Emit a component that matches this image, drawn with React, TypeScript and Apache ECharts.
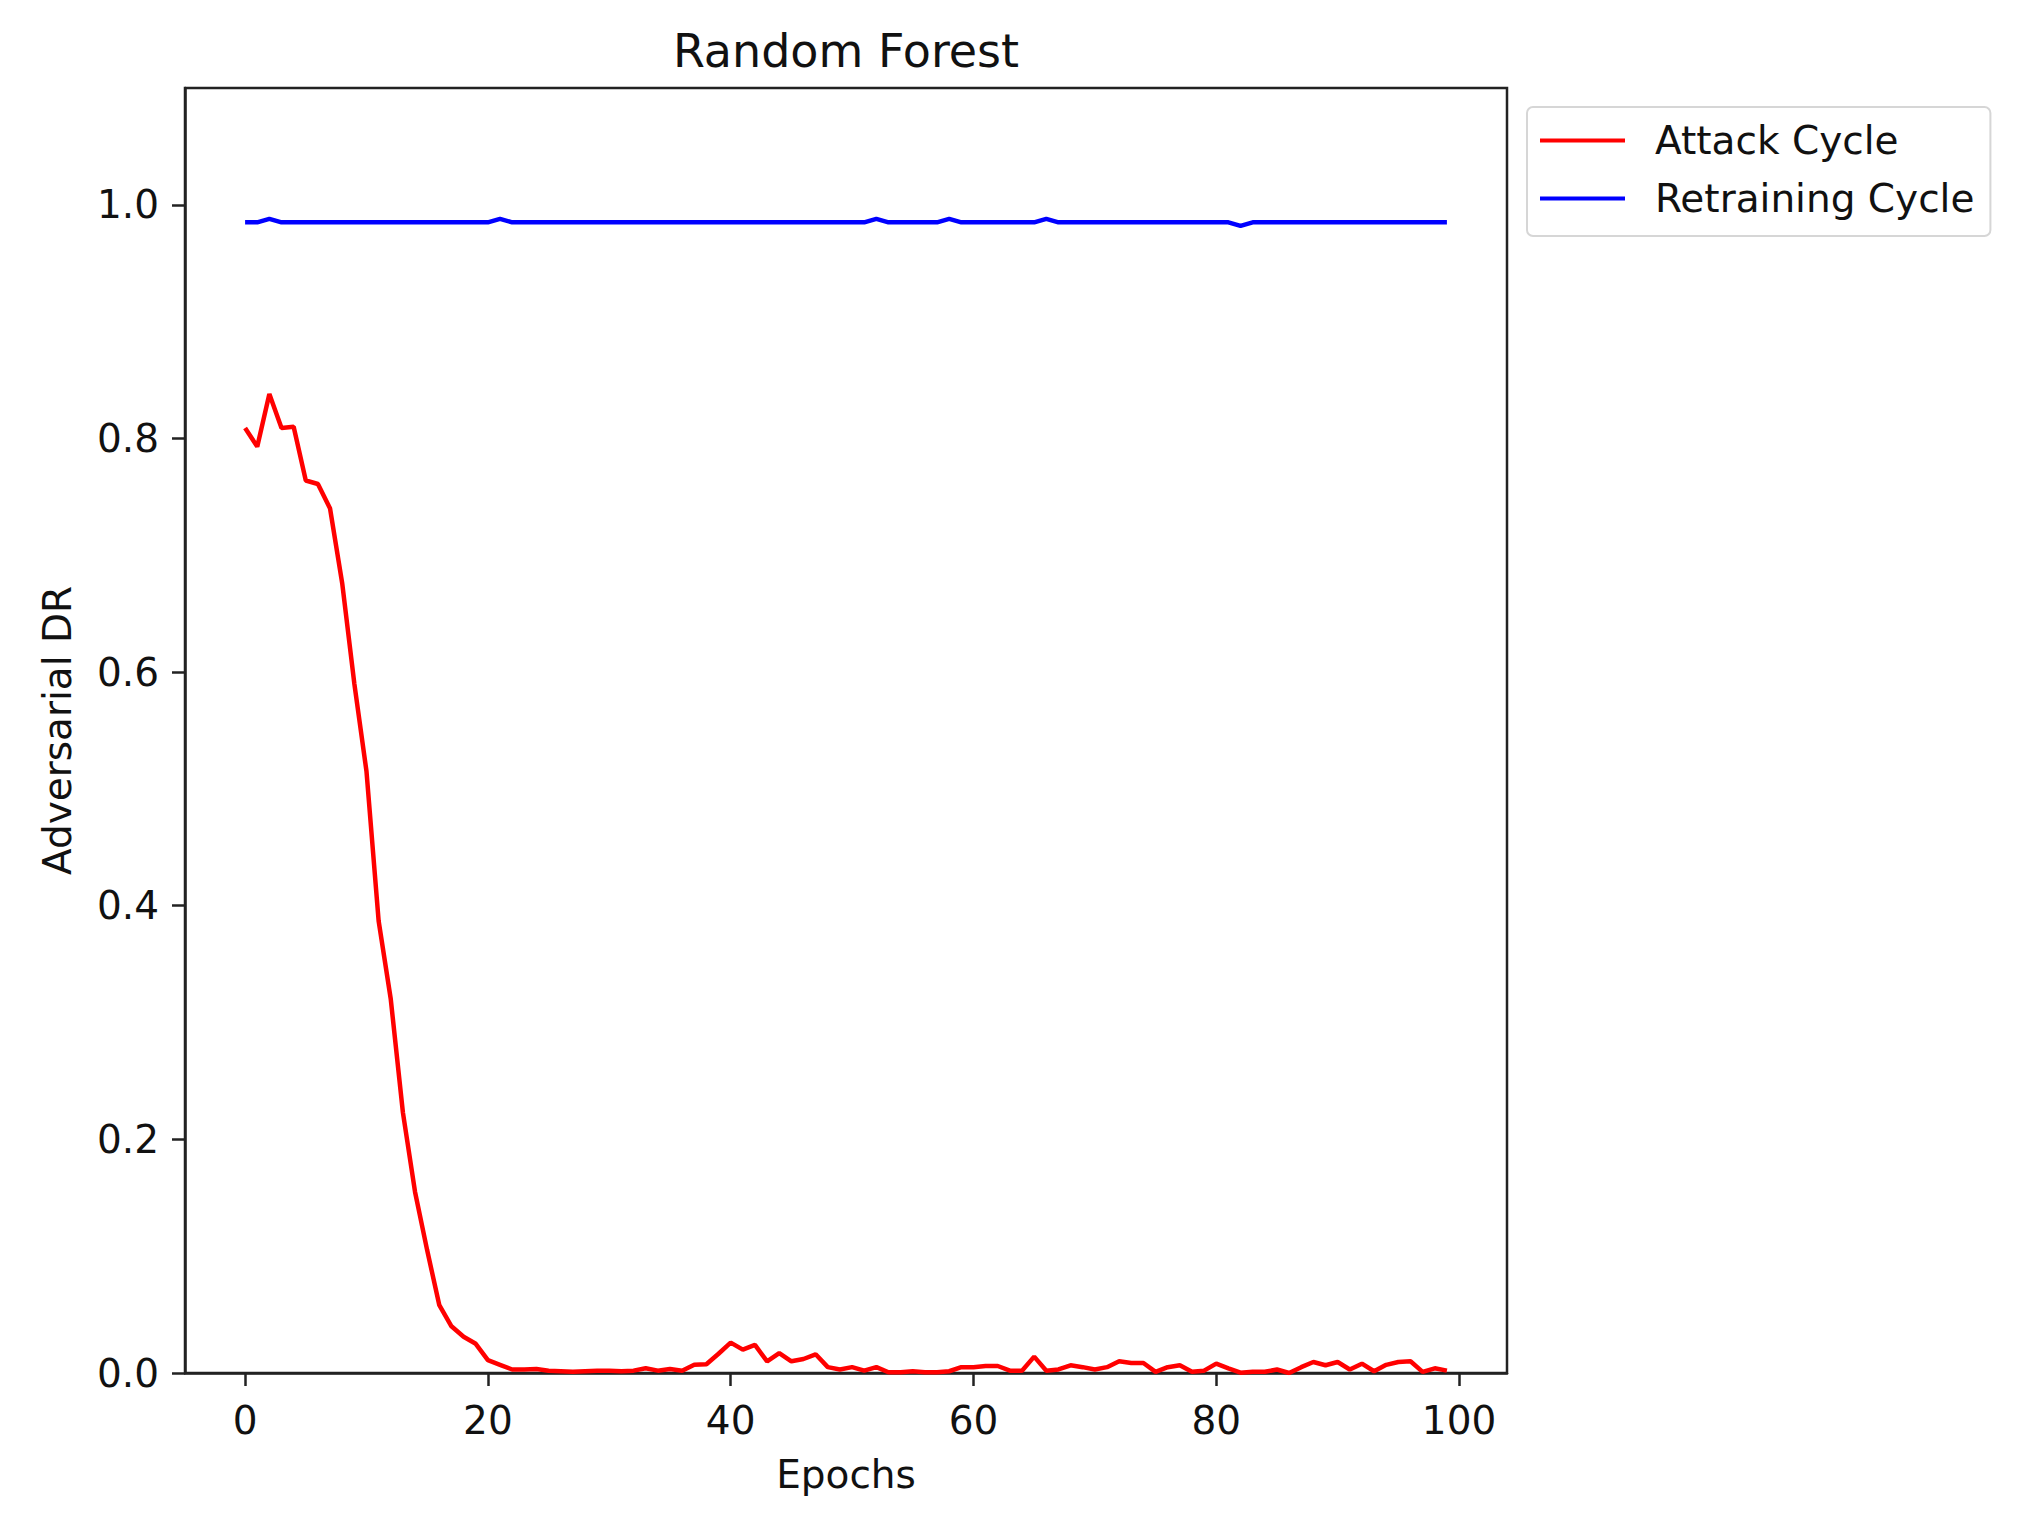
import React, { useEffect, useRef } from 'react';
import * as echarts from 'echarts';

const chartTitle = 'Random Forest';
const xName = 'Epochs';
const yName = 'Adversarial DR';
const seriesNames = ['Attack Cycle', 'Retraining Cycle'];
const xTickValues = [0, 20, 40, 60, 80, 100];
const yTickValues = [0, 0.2, 0.4, 0.6, 0.8, 1.0];

const attackCycle = [
  0.809, 0.793, 0.838, 0.809, 0.81, 0.764, 0.761, 0.74, 0.676, 0.59,
  0.515, 0.387, 0.32, 0.223, 0.155, 0.105, 0.058, 0.04, 0.031, 0.025,
  0.011, 0.007, 0.003, 0.003, 0.0035, 0.002, 0.0015, 0.001, 0.0015, 0.002,
  0.002, 0.0015, 0.002, 0.004, 0.002, 0.0035, 0.002, 0.007, 0.0075, 0.0165,
  0.026, 0.02, 0.024, 0.01, 0.017, 0.01, 0.012, 0.016, 0.005, 0.003,
  0.005, 0.002, 0.005, 0.0006, 0.0006, 0.0015, 0.0006, 0.0006, 0.0015, 0.005,
  0.005, 0.006, 0.006, 0.002, 0.002, 0.014, 0.002, 0.003, 0.0066, 0.005,
  0.003, 0.005, 0.01, 0.0086, 0.0086, 0.001, 0.005, 0.0066, 0.001, 0.002,
  0.008, 0.004, 0.0003, 0.001, 0.001, 0.003, 0.0, 0.005, 0.0094, 0.0066,
  0.0094, 0.003, 0.008, 0.0015, 0.007, 0.0094, 0.01, 0.001, 0.004, 0.002,
];

const retrainingCycle = [
  0.985, 0.985, 0.988, 0.985, 0.985, 0.985, 0.985, 0.985, 0.985, 0.985,
  0.985, 0.985, 0.985, 0.985, 0.985, 0.985, 0.985, 0.985, 0.985, 0.985,
  0.985, 0.988, 0.985, 0.985, 0.985, 0.985, 0.985, 0.985, 0.985, 0.985,
  0.985, 0.985, 0.985, 0.985, 0.985, 0.985, 0.985, 0.985, 0.985, 0.985,
  0.985, 0.985, 0.985, 0.985, 0.985, 0.985, 0.985, 0.985, 0.985, 0.985,
  0.985, 0.985, 0.988, 0.985, 0.985, 0.985, 0.985, 0.985, 0.988, 0.985,
  0.985, 0.985, 0.985, 0.985, 0.985, 0.985, 0.988, 0.985, 0.985, 0.985,
  0.985, 0.985, 0.985, 0.985, 0.985, 0.985, 0.985, 0.985, 0.985, 0.985,
  0.985, 0.985, 0.982, 0.985, 0.985, 0.985, 0.985, 0.985, 0.985, 0.985,
  0.985, 0.985, 0.985, 0.985, 0.985, 0.985, 0.985, 0.985, 0.985, 0.985,
];

const epochs = attackCycle.map((_, i) => i);

export default function App() {
  const ref = useRef<HTMLDivElement>(null);

  useEffect(() => {
    if (!ref.current) return;
    const chart = echarts.init(ref.current, undefined, { renderer: 'svg' });
    const font = 'DejaVu Sans';
    const axisColor = '#222';
    const textColor = '#111';

    chart.setOption({
      animation: false,
      backgroundColor: '#ffffff',
      textStyle: { fontFamily: font },
      grid: {
        left: 185,
        top: 88,
        width: 1322,
        height: 1285,
        show: true,
        borderColor: axisColor,
        borderWidth: 2.5,
        backgroundColor: 'transparent',
      },
      graphic: [
        {
          type: 'text',
          x: 846,
          y: 51,
          style: {
            text: chartTitle,
            fontSize: 46,
            fontFamily: font,
            fill: textColor,
            textAlign: 'center',
            textVerticalAlign: 'middle',
          },
        },
      ],
      legend: {
        orient: 'vertical',
        left: 1527,
        top: 107,
        icon: 'rect',
        itemWidth: 85,
        itemHeight: 4,
        itemGap: 19,
        padding: [14, 16, 18, 13],
        backgroundColor: '#ffffff',
        borderColor: '#d6d6d6',
        borderWidth: 2,
        borderRadius: 6,
        textStyle: {
          fontSize: 39,
          fontFamily: font,
          color: textColor,
          padding: [0, 0, 0, 25],
        },
        data: seriesNames,
      },
      xAxis: {
        type: 'value',
        min: -4.95,
        max: 103.95,
        name: xName,
        nameLocation: 'middle',
        nameGap: 82,
        nameTextStyle: { fontSize: 39, fontFamily: font, color: textColor },
        axisLine: { show: true, onZero: false, lineStyle: { color: axisColor, width: 2.5 } },
        axisTick: {
          show: true,
          length: 13,
          lineStyle: { color: axisColor, width: 2.5 },
          customValues: xTickValues,
        },
        axisLabel: {
          fontSize: 39,
          fontFamily: font,
          color: textColor,
          margin: 28,
          customValues: xTickValues,
        },
        splitLine: { show: false },
      },
      yAxis: {
        type: 'value',
        min: 0,
        max: 1.1,
        name: yName,
        nameLocation: 'middle',
        nameGap: 108,
        nameTextStyle: { fontSize: 39, fontFamily: font, color: textColor },
        axisLine: { show: true, onZero: false, lineStyle: { color: axisColor, width: 2.5 } },
        axisTick: {
          show: true,
          length: 13,
          lineStyle: { color: axisColor, width: 2.5 },
          customValues: yTickValues,
        },
        axisLabel: {
          fontSize: 39,
          fontFamily: font,
          color: textColor,
          margin: 26,
          customValues: yTickValues,
          formatter: (v: number) => v.toFixed(1),
        },
        splitLine: { show: false },
      },
      series: [
        {
          name: seriesNames[0],
          type: 'line',
          data: epochs.map((e, i) => [e, attackCycle[i]]),
          showSymbol: false,
          symbol: 'none',
          color: '#ff0000',
          lineStyle: { color: '#ff0000', width: 4.5 },
          z: 3,
        },
        {
          name: seriesNames[1],
          type: 'line',
          data: epochs.map((e, i) => [e, retrainingCycle[i]]),
          showSymbol: false,
          symbol: 'none',
          color: '#0000ff',
          lineStyle: { color: '#0000ff', width: 4.5 },
          z: 3,
        },
      ],
    });

    return () => chart.dispose();
  }, []);

  return (
    <div
      ref={ref}
      style={{ position: 'absolute', left: 0, top: 0, width: 2028, height: 1540 }}
    />
  );
}
